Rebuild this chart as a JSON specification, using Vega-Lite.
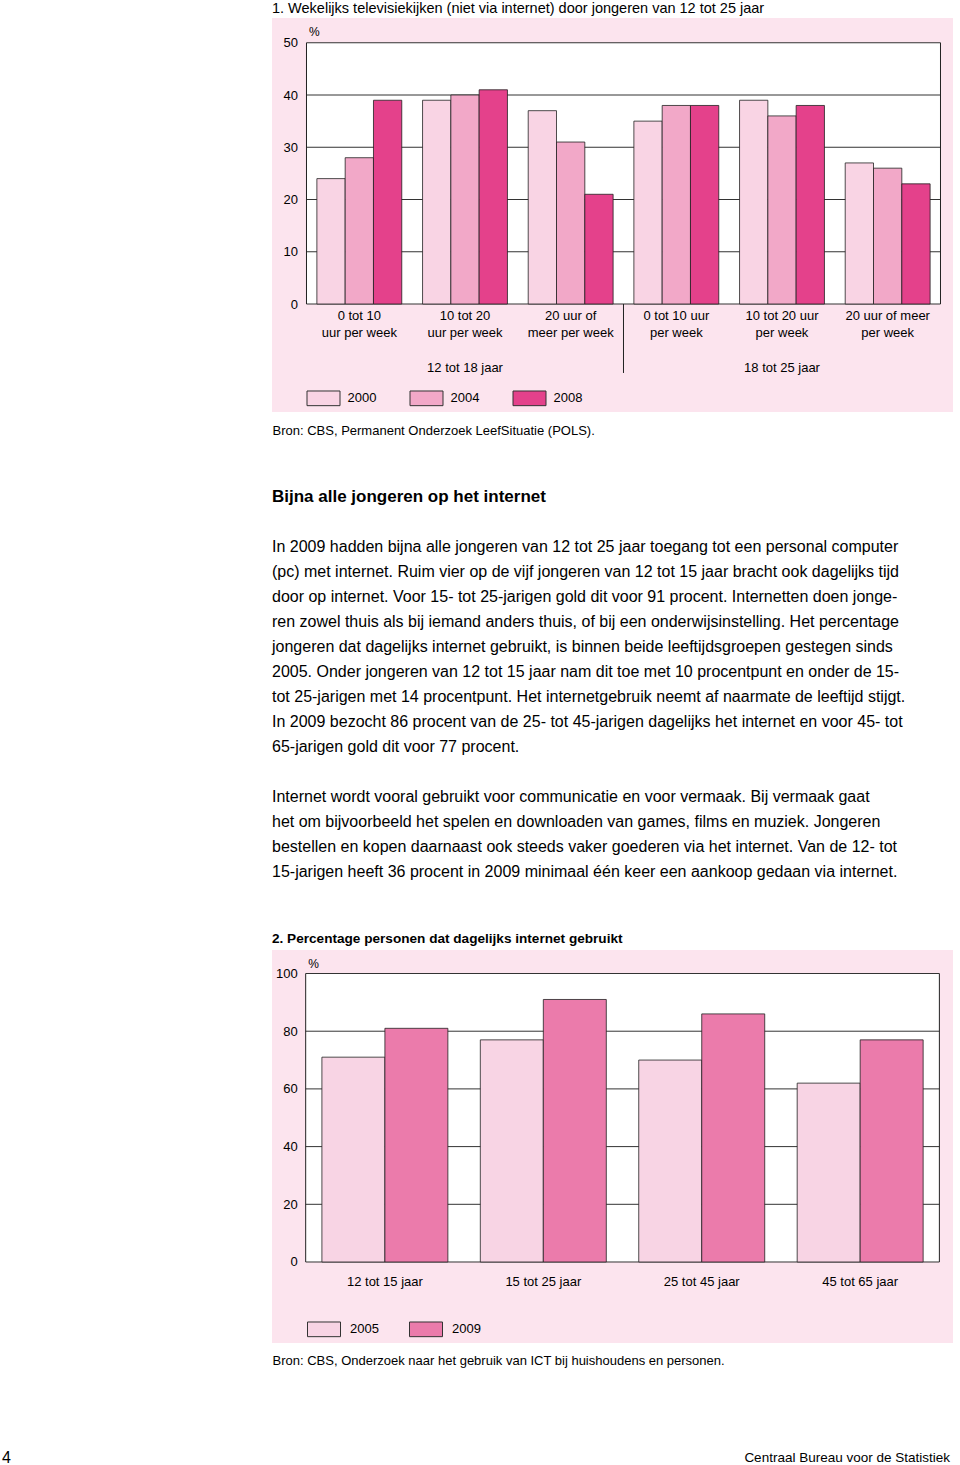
{
  "$schema": "https://vega.github.io/schema/vega-lite/v6.json",
  "background": "white",
  "padding": {"left": 0, "right": 0, "top": 0, "bottom": 0},
  "spacing": 0,
  "resolve": {
    "scale": {"color": "independent", "xOffset": "independent", "x": "independent", "y": "independent"},
    "legend": {"color": "independent"}
  },
  "config": {
    "font": "Liberation Sans",
    "view": {"stroke": null},
    "axis": {"labelColor": "#000", "titleColor": "#000"},
    "legend": {"labelColor": "#000"},
    "title": {"color": "#000"},
    "text": {"color": "#000"}
  },
  "datasets": {
    "tv": [
      {"groep": "0 tot 10|uur per week", "jaar": "2000", "procent": 24},
      {"groep": "0 tot 10|uur per week", "jaar": "2004", "procent": 28},
      {"groep": "0 tot 10|uur per week", "jaar": "2008", "procent": 39},
      {"groep": "10 tot 20|uur per week", "jaar": "2000", "procent": 39},
      {"groep": "10 tot 20|uur per week", "jaar": "2004", "procent": 40},
      {"groep": "10 tot 20|uur per week", "jaar": "2008", "procent": 41},
      {"groep": "20 uur of|meer per week", "jaar": "2000", "procent": 37},
      {"groep": "20 uur of|meer per week", "jaar": "2004", "procent": 31},
      {"groep": "20 uur of|meer per week", "jaar": "2008", "procent": 21},
      {"groep": "0 tot 10 uur|per week", "jaar": "2000", "procent": 35},
      {"groep": "0 tot 10 uur|per week", "jaar": "2004", "procent": 38},
      {"groep": "0 tot 10 uur|per week", "jaar": "2008", "procent": 38},
      {"groep": "10 tot 20 uur|per week", "jaar": "2000", "procent": 39},
      {"groep": "10 tot 20 uur|per week", "jaar": "2004", "procent": 36},
      {"groep": "10 tot 20 uur|per week", "jaar": "2008", "procent": 38},
      {"groep": "20 uur of meer|per week", "jaar": "2000", "procent": 27},
      {"groep": "20 uur of meer|per week", "jaar": "2004", "procent": 26},
      {"groep": "20 uur of meer|per week", "jaar": "2008", "procent": 23}
    ],
    "leeftijd1": [
      {"groep": "10 tot 20|uur per week", "label": "12 tot 18 jaar"},
      {"groep": "10 tot 20 uur|per week", "label": "18 tot 25 jaar"}
    ],
    "internet": [
      {"groep": "12 tot 15 jaar", "jaar": "2005", "procent": 71},
      {"groep": "12 tot 15 jaar", "jaar": "2009", "procent": 81},
      {"groep": "15 tot 25 jaar", "jaar": "2005", "procent": 77},
      {"groep": "15 tot 25 jaar", "jaar": "2009", "procent": 91},
      {"groep": "25 tot 45 jaar", "jaar": "2005", "procent": 70},
      {"groep": "25 tot 45 jaar", "jaar": "2009", "procent": 86},
      {"groep": "45 tot 65 jaar", "jaar": "2005", "procent": 62},
      {"groep": "45 tot 65 jaar", "jaar": "2009", "procent": 77}
    ],
    "grid1": [{"v": 0}, {"v": 10}, {"v": 20}, {"v": 30}, {"v": 40}, {"v": 50}],
    "grid2": [{"v": 0}, {"v": 20}, {"v": 40}, {"v": 60}, {"v": 80}, {"v": 100}],
    "tekst": [
      {"regel": 0, "soort": "kop", "tekst": "Bijna alle jongeren op het internet"},
      {"regel": 2, "soort": "tekst", "tekst": "In 2009 hadden bijna alle jongeren van 12 tot 25 jaar toegang tot een personal computer"},
      {"regel": 3, "soort": "tekst", "tekst": "(pc) met internet. Ruim vier op de vijf jongeren van 12 tot 15 jaar bracht ook dagelijks tijd"},
      {"regel": 4, "soort": "tekst", "tekst": "door op internet. Voor 15- tot 25-jarigen gold dit voor 91 procent. Internetten doen jonge-"},
      {"regel": 5, "soort": "tekst", "tekst": "ren zowel thuis als bij iemand anders thuis, of bij een onderwijsinstelling. Het percentage"},
      {"regel": 6, "soort": "tekst", "tekst": "jongeren dat dagelijks internet gebruikt, is binnen beide leeftijdsgroepen gestegen sinds"},
      {"regel": 7, "soort": "tekst", "tekst": "2005. Onder jongeren van 12 tot 15 jaar nam dit toe met 10 procentpunt en onder de 15-"},
      {"regel": 8, "soort": "tekst", "tekst": "tot 25-jarigen met 14 procentpunt. Het internetgebruik neemt af naarmate de leeftijd stijgt."},
      {"regel": 9, "soort": "tekst", "tekst": "In 2009 bezocht 86 procent van de 25- tot 45-jarigen dagelijks het internet en voor 45- tot"},
      {"regel": 10, "soort": "tekst", "tekst": "65-jarigen gold dit voor 77 procent."},
      {"regel": 12, "soort": "tekst", "tekst": "Internet wordt vooral gebruikt voor communicatie en voor vermaak. Bij vermaak gaat"},
      {"regel": 13, "soort": "tekst", "tekst": "het om bijvoorbeeld het spelen en downloaden van games, films en muziek. Jongeren"},
      {"regel": 14, "soort": "tekst", "tekst": "bestellen en kopen daarnaast ook steeds vaker goederen via het internet. Van de 12- tot"},
      {"regel": 15, "soort": "tekst", "tekst": "15-jarigen heeft 36 procent in 2009 minimaal één keer een aankoop gedaan via internet."}
    ]
  },
  "vconcat": [
    {
      "spacing": 20,
      "resolve": {"scale": {"color": "independent", "xOffset": "independent"}, "legend": {"color": "independent"}},
      "hconcat": [
        {"width": 252, "height": 10, "data": {"values": []}, "mark": "point"},
        {
          "width": 681,
          "height": 394,
          "view": {"fill": "#FCE4EE", "stroke": null},
          "title": {"text": "1.  Wekelijks televisiekijken (niet via internet) door jongeren van 12 tot 25 jaar", "anchor": "start", "fontSize": 14.5, "fontWeight": "normal", "offset": 2},
          "layer": [
            {
              "data": {"values": [{}]},
              "mark": {"type": "rect", "fill": "white"},
              "encoding": {
                "x": {"datum": "0 tot 10|uur per week", "type": "nominal", "bandPosition": 0},
                "x2": {"datum": "20 uur of meer|per week", "bandPosition": 1},
                "y": {"datum": 0, "type": "quantitative"},
                "y2": {"datum": 50}
              }
            },
            {
              "data": {"name": "grid1"},
              "mark": {"type": "rule", "color": "#333", "strokeWidth": 1},
              "encoding": {
                "x": {"datum": "0 tot 10|uur per week", "type": "nominal", "bandPosition": 0},
                "x2": {"datum": "20 uur of meer|per week", "bandPosition": 1},
                "y": {"field": "v", "type": "quantitative"}
              }
            },
            {
              "data": {"values": [{}]},
              "mark": {"type": "rule", "color": "#222", "strokeWidth": 1},
              "encoding": {
                "x": {"datum": "0 tot 10|uur per week", "type": "nominal", "bandPosition": 0},
                "y": {"datum": 0, "type": "quantitative"},
                "y2": {"datum": 50}
              }
            },
            {
              "data": {"values": [{}]},
              "mark": {"type": "rule", "color": "#222", "strokeWidth": 1},
              "encoding": {
                "x": {"datum": "20 uur of meer|per week", "type": "nominal", "bandPosition": 1},
                "y": {"datum": 0, "type": "quantitative"},
                "y2": {"datum": 50}
              }
            },
            {
              "data": {"values": [{}]},
              "mark": {"type": "rule", "color": "#222", "strokeWidth": 1},
              "encoding": {
                "x": {"datum": "0 tot 10 uur|per week", "type": "nominal", "bandPosition": 0},
                "y": {"datum": 0, "type": "quantitative"},
                "y2": {"datum": -13.2}
              }
            },
            {
              "data": {"name": "tv"},
              "mark": {"type": "bar", "stroke": "#222", "strokeWidth": 0.8},
              "encoding": {
                "x": {
                  "field": "groep", "type": "nominal", "sort": null,
                  "scale": {"domain": ["0 tot 10|uur per week", "10 tot 20|uur per week", "20 uur of|meer per week", "0 tot 10 uur|per week", "10 tot 20 uur|per week", "20 uur of meer|per week"], "paddingInner": 0, "paddingOuter": 0.2224, "align": 0.734},
                  "axis": {
                    "title": "Bron: CBS, Permanent Onderzoek LeefSituatie (POLS).",
                    "titleX": 0, "titleY": 126, "titleAlign": "left", "titleBaseline": "middle", "titleFontWeight": "normal", "titleFontSize": 13,
                    "offset": -108, "labelExpr": "split(datum.label, '|')", "labelAngle": 0, "labelAlign": "center", "labelFontSize": 13, "labelLineHeight": 17, "labelPadding": 5, "labelBaseline": "top", "labelOverlap": false, "ticks": false, "domain": false, "grid": false
                  }
                },
                "xOffset": {"field": "jaar", "type": "nominal", "scale": {"domain": ["2000", "2004", "2008"], "paddingInner": 0, "paddingOuter": 0.367}},
                "y": {
                  "field": "procent", "type": "quantitative",
                  "scale": {"domain": [-20.67, 54.74], "nice": false, "zero": false},
                  "axis": {
                    "title": "%", "titleAngle": 0, "titleX": 2, "titleY": 13, "titleAlign": "left", "titleBaseline": "middle", "titleFontWeight": "normal", "titleFontSize": 12,
                    "offset": -34.5, "values": [0, 10, 20, 30, 40, 50], "ticks": false, "domain": false, "grid": false, "labelPadding": 9, "labelFontSize": 13
                  }
                },
                "color": {
                  "field": "jaar", "type": "nominal",
                  "scale": {"domain": ["2000", "2004", "2008"], "range": ["#F9D4E4", "#F2A8C8", "#E4418B"]},
                  "legend": {"orient": "none", "legendX": 34.5, "legendY": 363, "direction": "horizontal", "title": null, "symbolType": "M-1,-0.445H1V0.445H-1Z", "symbolSize": 1089, "symbolStrokeColor": "#333", "symbolStrokeWidth": 1, "symbolOpacity": 1, "labelFontSize": 13, "labelOffset": 7, "columnPadding": 31}
                }
              }
            },
            {
              "data": {"name": "leeftijd1"},
              "mark": {"type": "text", "fontSize": 13, "baseline": "middle"},
              "encoding": {
                "x": {"field": "groep", "type": "nominal"},
                "y": {"datum": -12.2, "type": "quantitative"},
                "text": {"field": "label"}
              }
            }
          ]
        }
      ]
    },
    {
      "spacing": 20,
      "hconcat": [
        {"width": 252, "height": 10, "data": {"values": []}, "mark": "point"},
        {
          "width": 681,
          "height": 494,
          "data": {"name": "tekst"},
          "encoding": {
            "x": {"datum": 0, "type": "quantitative", "scale": {"domain": [0, 1]}, "axis": null},
            "y": {"field": "regel", "type": "quantitative", "scale": {"domain": [-2.38, 17.38], "reverse": true, "nice": false, "zero": false}, "axis": null},
            "text": {"field": "tekst"}
          },
          "layer": [
            {"transform": [{"filter": "datum.soort == 'kop'"}], "mark": {"type": "text", "align": "left", "baseline": "middle", "fontSize": 17, "fontWeight": "bold"}},
            {"transform": [{"filter": "datum.soort == 'tekst'"}], "mark": {"type": "text", "align": "left", "baseline": "middle", "fontSize": 16}}
          ]
        }
      ]
    },
    {
      "spacing": 20,
      "resolve": {"scale": {"color": "independent", "xOffset": "independent"}, "legend": {"color": "independent"}},
      "hconcat": [
        {"width": 252, "height": 10, "data": {"values": []}, "mark": "point"},
        {
          "width": 681,
          "height": 393,
          "view": {"fill": "#FCE4EE", "stroke": null},
          "title": {"text": "2. Percentage personen dat dagelijks internet gebruikt", "anchor": "start", "fontSize": 13.6, "fontWeight": "bold", "offset": 4.5},
          "layer": [
            {
              "data": {"values": [{}]},
              "mark": {"type": "rect", "fill": "white"},
              "encoding": {
                "x": {"datum": "12 tot 15 jaar", "type": "nominal", "bandPosition": 0},
                "x2": {"datum": "45 tot 65 jaar", "bandPosition": 1},
                "y": {"datum": 0, "type": "quantitative"},
                "y2": {"datum": 100}
              }
            },
            {
              "data": {"name": "grid2"},
              "mark": {"type": "rule", "color": "#333", "strokeWidth": 1},
              "encoding": {
                "x": {"datum": "12 tot 15 jaar", "type": "nominal", "bandPosition": 0},
                "x2": {"datum": "45 tot 65 jaar", "bandPosition": 1},
                "y": {"field": "v", "type": "quantitative"}
              }
            },
            {
              "data": {"values": [{}]},
              "mark": {"type": "rule", "color": "#222", "strokeWidth": 1},
              "encoding": {
                "x": {"datum": "12 tot 15 jaar", "type": "nominal", "bandPosition": 0},
                "y": {"datum": 0, "type": "quantitative"},
                "y2": {"datum": 100}
              }
            },
            {
              "data": {"values": [{}]},
              "mark": {"type": "rule", "color": "#222", "strokeWidth": 1},
              "encoding": {
                "x": {"datum": "45 tot 65 jaar", "type": "nominal", "bandPosition": 1},
                "y": {"datum": 0, "type": "quantitative"},
                "y2": {"datum": 100}
              }
            },
            {
              "data": {"name": "internet"},
              "mark": {"type": "bar", "stroke": "#222", "strokeWidth": 0.8},
              "encoding": {
                "x": {
                  "field": "groep", "type": "nominal", "sort": null,
                  "scale": {"domain": ["12 tot 15 jaar", "15 tot 25 jaar", "25 tot 45 jaar", "45 tot 65 jaar"], "paddingInner": 0, "paddingOuter": 0.1493, "align": 0.712},
                  "axis": {
                    "title": "Bron: CBS, Onderzoek naar het gebruik van ICT bij huishoudens en personen.",
                    "titleX": 0, "titleY": 98, "titleAlign": "left", "titleBaseline": "middle", "titleFontWeight": "normal", "titleFontSize": 13,
                    "offset": -81, "labelAngle": 0, "labelAlign": "center", "labelFontSize": 13, "labelPadding": 13, "labelBaseline": "top", "labelOverlap": false, "ticks": false, "domain": false, "grid": false
                  }
                },
                "xOffset": {"field": "jaar", "type": "nominal", "scale": {"domain": ["2005", "2009"], "paddingInner": 0, "paddingOuter": 0.2575}},
                "y": {
                  "field": "procent", "type": "quantitative",
                  "scale": {"domain": [-28.08, 108.15], "nice": false, "zero": false},
                  "axis": {
                    "title": "%", "titleAngle": 0, "titleX": 2, "titleY": 13, "titleAlign": "left", "titleBaseline": "middle", "titleFontWeight": "normal", "titleFontSize": 12,
                    "offset": -33.7, "values": [0, 20, 40, 60, 80, 100], "ticks": false, "domain": false, "grid": false, "labelPadding": 8.5, "labelFontSize": 13
                  }
                },
                "color": {
                  "field": "jaar", "type": "nominal",
                  "scale": {"domain": ["2005", "2009"], "range": ["#F8D4E4", "#EB7BAB"]},
                  "legend": {"orient": "none", "legendX": 35, "legendY": 362, "direction": "horizontal", "title": null, "symbolType": "M-1,-0.445H1V0.445H-1Z", "symbolSize": 1089, "symbolStrokeColor": "#333", "symbolStrokeWidth": 1, "symbolOpacity": 1, "labelFontSize": 13, "labelOffset": 9, "columnPadding": 28}
                }
              }
            }
          ]
        }
      ]
    },
    {"width": 10, "height": 83, "data": {"values": []}, "mark": "point"},
    {
      "width": 950,
      "height": 16,
      "encoding": {
        "text": {"field": "tekst"}
      },
      "layer": [
        {
          "data": {"values": [{"tekst": "4"}]},
          "mark": {"type": "text", "align": "left", "baseline": "middle", "fontSize": 16, "dx": 2},
          "encoding": {"x": {"datum": 0, "type": "quantitative", "scale": {"domain": [0, 1]}, "axis": null}}
        },
        {
          "data": {"values": [{"tekst": "Centraal Bureau voor de Statistiek"}]},
          "mark": {"type": "text", "align": "right", "baseline": "middle", "fontSize": 13.5},
          "encoding": {"x": {"datum": 1, "type": "quantitative", "scale": {"domain": [0, 1]}, "axis": null}}
        }
      ]
    }
  ]
}
